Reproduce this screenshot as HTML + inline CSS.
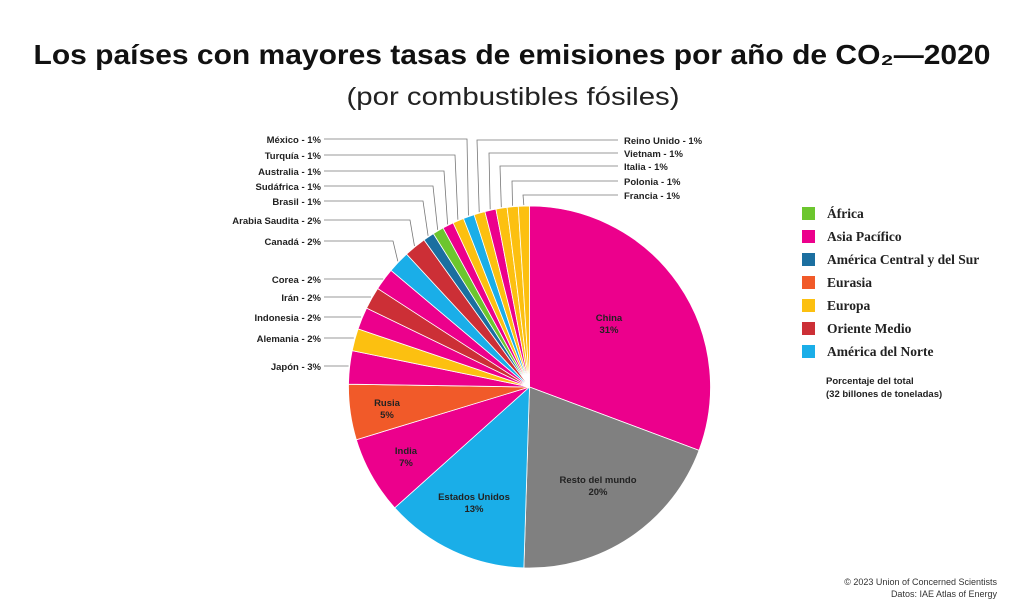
<!DOCTYPE html>
<html><head><meta charset="utf-8"><style>
html,body{margin:0;padding:0;background:#fff;}
svg{display:block;font-family:"Liberation Sans",sans-serif;}
.l{font-size:9.5px;font-weight:bold;fill:#222;}
.lg{font-family:"Liberation Serif",serif;font-weight:bold;font-size:13.5px;fill:#222;}
.in{font-size:9.5px;font-weight:bold;fill:#222;text-anchor:middle;}
</style></head><body>
<svg id="s" width="1024" height="615" viewBox="0 0 1024 615">
<text x="512" y="64" text-anchor="middle" font-size="28" font-weight="bold" textLength="957" lengthAdjust="spacingAndGlyphs" fill="#111">Los países con mayores tasas de emisiones por año de CO₂—2020</text>
<text x="513" y="105" text-anchor="middle" font-size="25" textLength="333" lengthAdjust="spacingAndGlyphs" fill="#222">(por combustibles fósiles)</text>
<g id="pie"></g>
<g id="lines" stroke="#777" stroke-width="0.8" fill="none"></g>
<g class="l" text-anchor="end">
<text x="321" y="143">México - 1%</text>
<text x="321" y="159">Turquía - 1%</text>
<text x="321" y="175">Australia - 1%</text>
<text x="321" y="190">Sudáfrica - 1%</text>
<text x="321" y="205">Brasil - 1%</text>
<text x="321" y="224">Arabia Saudita - 2%</text>
<text x="321" y="245">Canadá - 2%</text>
<text x="321" y="283">Corea - 2%</text>
<text x="321" y="301">Irán - 2%</text>
<text x="321" y="321">Indonesia - 2%</text>
<text x="321" y="342">Alemania - 2%</text>
<text x="321" y="370">Japón - 3%</text>
</g>
<g class="l">
<text x="624" y="144">Reino Unido - 1%</text>
<text x="624" y="157">Vietnam - 1%</text>
<text x="624" y="170">Italia - 1%</text>
<text x="624" y="185">Polonia - 1%</text>
<text x="624" y="199">Francia - 1%</text>
</g>
<g class="in">
<text x="609" y="321">China</text><text x="609" y="333">31%</text>
<text x="598" y="483">Resto del mundo</text><text x="598" y="495">20%</text>
<text x="474" y="500">Estados Unidos</text><text x="474" y="512">13%</text>
<text x="406" y="454">India</text><text x="406" y="466">7%</text>
<text x="387" y="406">Rusia</text><text x="387" y="418">5%</text>
</g>
<g>
<rect x="802" y="207" width="13" height="13" fill="#6cc62e"/>
<rect x="802" y="230" width="13" height="13" fill="#ec008c"/>
<rect x="802" y="253" width="13" height="13" fill="#1b6fa0"/>
<rect x="802" y="276" width="13" height="13" fill="#f15a29"/>
<rect x="802" y="299" width="13" height="13" fill="#fcc010"/>
<rect x="802" y="322" width="13" height="13" fill="#cc2f36"/>
<rect x="802" y="345" width="13" height="13" fill="#1aaee8"/>
</g>
<g class="lg">
<text x="827" y="218">África</text>
<text x="827" y="241">Asia Pacífico</text>
<text x="827" y="264">América Central y del Sur</text>
<text x="827" y="287">Eurasia</text>
<text x="827" y="310">Europa</text>
<text x="827" y="333">Oriente Medio</text>
<text x="827" y="356">América del Norte</text>
</g>
<text x="826" y="384" class="l" font-weight="bold">Porcentaje del total</text>
<text x="826" y="397" class="l">(32 billones de toneladas)</text>
<text x="997" y="585" text-anchor="end" font-size="9" fill="#333">© 2023 Union of Concerned Scientists</text>
<text x="997" y="597" text-anchor="end" font-size="9" fill="#333">Datos: IAE Atlas of Energy</text>
</svg>
<script>
var P="#ec008c",G="#808080",B="#1aaee8",O="#f15a29",Y="#fcc010",R="#cc2f36",GR="#6cc62e",DB="#1b6fa0";
var d=[[31,P],[20,G],[13,B],[7,P],[5,O],[3,P],[2,Y],[2,P],[2,R],[2,P],[2,B],[2,R],
[1,DB],[1,GR],[1,P],[1,Y],[1,B],[1,Y],[1,P],[1,Y],[1,Y],[1,Y]];
var cx=529.5,cy=387,r=181,tot=0;d.forEach(function(a){tot+=a[0];});
function pt(a,rr){var t=a*Math.PI/180;return [cx+rr*Math.sin(t),cy-rr*Math.cos(t)];}
var s="",acc=0,mids=[];
d.forEach(function(a){var a0=acc/tot*360;acc+=a[0];var a1=acc/tot*360;
var p0=pt(a0,r),p1=pt(a1,r);mids.push((a0+a1)/2);
s+='<path d="M'+cx+','+cy+'L'+p0[0]+','+p0[1]+'A'+r+','+r+' 0 '+(a1-a0>180?1:0)+' 1 '+p1[0]+','+p1[1]+'Z" fill="'+a[1]+'" stroke="#fff" stroke-width="0.8"/>';});
document.getElementById("pie").innerHTML=s;
// leaders: index -> [labelY, elbowX, side]
var L={12:[201,423,0],13:[186,433,0],14:[171,444,0],15:[155,455,0],16:[139,467,0],11:[220,410,0],10:[241,393,0],
9:[279,0,0],8:[297,0,0],7:[317,0,0],6:[338,0,0],5:[366,0,0],
17:[140,477,1],18:[153,489,1],19:[166,500,1],20:[181,512,1],21:[195,523,1]};
var l="";
for(var k in L){var v=L[k],e=pt(mids[k],r+1);
if(v[2]==1){l+='<polyline points="'+e[0]+','+e[1]+' '+v[1]+','+v[0]+' 618,'+v[0]+'"/>';}
else if(v[1]){l+='<polyline points="324,'+v[0]+' '+v[1]+','+v[0]+' '+e[0]+','+e[1]+'"/>';}
else{l+='<polyline points="324,'+v[0]+' '+e[0]+','+v[0]+'"/>';}}
document.getElementById("lines").innerHTML=l;
</script>
</body></html>
